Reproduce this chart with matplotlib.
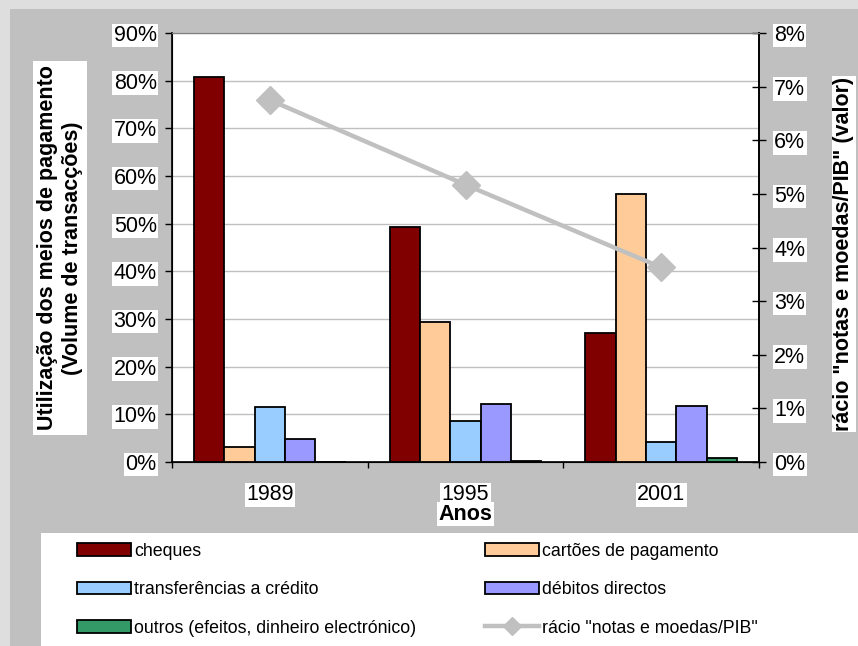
import matplotlib
matplotlib.use("Agg")
import matplotlib.pyplot as plt
import numpy as np
from matplotlib.patches import Rectangle, Patch
from matplotlib.lines import Line2D
from matplotlib.ticker import FuncFormatter, MultipleLocator

plt.rcParams['font.family'] = ['Liberation Sans', 'DejaVu Sans']

years = ['1989', '1995', '2001']
cheques = [80.7, 49.3, 27.0]
cartoes = [3.2, 29.3, 56.2]
transferencias = [11.5, 8.5, 4.3]
debitos = [4.8, 12.2, 11.7]
outros = [0.0, 0.3, 0.9]
racio = [6.75, 5.17, 3.63]

series = [
    ("cheques", cheques, "#800000"),
    ("cartões de pagamento", cartoes, "#FFCC99"),
    ("transferências a crédito", transferencias, "#99CCFF"),
    ("débitos directos", debitos, "#9999FF"),
    ("outros (efeitos, dinheiro electrónico)", outros, "#339966"),
]
line_label = 'rácio "notas e moedas/PIB"'
line_color = "#C0C0C0"

W, H = 858, 646
fig = plt.figure(figsize=(W / 100, H / 100), dpi=100, facecolor="#DEDEDE")

def px(x0, y0, x1, y1):
    # pixel box (top-left origin) -> figure fraction rect
    return [x0 / W, 1 - y1 / H, (x1 - x0) / W, (y1 - y0) / H]

# chart area and legend box
fig.patches.append(Rectangle((10 / W, 0), 1, 1 - 9 / H, transform=fig.transFigure,
                             facecolor="#C0C0C0", edgecolor="none", zorder=-10))
fig.patches.append(Rectangle((41 / W, 0), 1, 1 - 533 / H, transform=fig.transFigure,
                             facecolor="white", edgecolor="none", zorder=-9))

ax = fig.add_axes(px(172, 33, 759, 462))
ax.set_facecolor("white")
x = np.arange(len(years))
w = 0.155
for i, (name, vals, col) in enumerate(series):
    ax.bar(x + (i - 2) * w, vals, width=w, color=col, edgecolor="black",
           linewidth=1.3, zorder=3)

fs = 15.5
lfs = 12.8
wb = dict(facecolor="white", edgecolor="none", pad=1)

ax.set_ylim(0, 90)
ax.yaxis.set_major_locator(MultipleLocator(10))
ax.yaxis.set_major_formatter(FuncFormatter(lambda v, p: f"{v:.0f}%"))
ax.grid(axis="y", color="#C0C0C0", linewidth=1, zorder=0)
ax.set_axisbelow(True)
ax.set_xlim(-0.5, 2.5)
ax.set_xticks([-0.5, 0.5, 1.5, 2.5])
ax.set_xticklabels([])
ax.set_xticks(x, minor=True)
ax.set_xticklabels(years, minor=True)
ax.tick_params(axis="x", which="major", direction="out", length=4.5, width=1)
ax.tick_params(axis="x", which="minor", length=0, pad=16, labelsize=fs)
ax.tick_params(axis="y", direction="out", length=5, width=1, labelsize=fs, pad=6)
for lab in ax.get_yticklabels() + ax.get_xticklabels(minor=True):
    lab.set_bbox(wb)
ax.spines["top"].set_color("#808080")
for s in ("left", "bottom", "right"):
    ax.spines[s].set_linewidth(1.2)

ax.set_xlabel("Anos", fontsize=fs, fontweight="bold", bbox=wb)
ax.xaxis.set_label_coords(0.5, (462 - 514) / 429)
ax.xaxis.label.set_va("center")

ax.set_ylabel("Utilização dos meios de pagamento\n(Volume de transacções)",
              fontsize=fs, fontweight="bold", bbox=dict(facecolor="white", edgecolor="none", pad=3),
              linespacing=1.25)
ax.yaxis.set_label_coords((60 - 172) / 587, (462 - 248) / 429)
ax.yaxis.label.set_va("center")

ax2 = ax.twinx()
ax2.plot(x, racio, color=line_color, linewidth=3.2, marker="D", markersize=14,
         zorder=4)
ax2.set_ylim(0, 8)
ax2.yaxis.set_major_locator(MultipleLocator(1))
ax2.yaxis.set_major_formatter(FuncFormatter(lambda v, p: f"{v:.0f}%"))
ax2.tick_params(axis="y", direction="inout", length=10, width=1, labelsize=fs, pad=6)
for lab in ax2.get_yticklabels():
    lab.set_bbox(wb)
ax2.spines["right"].set_linewidth(1.2)
ax2.spines["top"].set_color("#808080")
ax2.set_ylabel(line_label + " (valor)", fontsize=fs, fontweight="bold", bbox=wb)
ax2.yaxis.set_label_coords((844 - 172) / 587, (462 - 254) / 429)
ax2.yaxis.label.set_va("center")

# legend, two columns placed separately
handles = [Patch(facecolor=c, edgecolor="black", linewidth=1.3) for _, _, c in series]
handles.append(Line2D([], [], color=line_color, linewidth=3.2, marker="D", markersize=9))
labels = [s[0] for s in series] + [line_label]
col1 = [0, 2, 4]
col2 = [1, 3, 5]
for idx, x0 in ((col1, 77), (col2, 485)):
    fig.legend([handles[i] for i in idx], [labels[i] for i in idx],
               loc="upper left", bbox_to_anchor=(x0 / W, 1 - 543 / H),
               frameon=False, fontsize=lfs, borderpad=0, borderaxespad=0,
               handlelength=3.05, handleheight=0.72, handletextpad=0.15,
               labelspacing=1.2)

fig.savefig("out.png", dpi=100, facecolor=fig.get_facecolor())
